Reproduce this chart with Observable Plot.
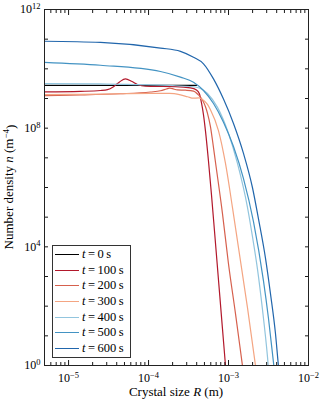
<!DOCTYPE html>
<html><head><meta charset="utf-8">
<script src="https://cdn.jsdelivr.net/npm/d3@7"></script>
<script src="https://cdn.jsdelivr.net/npm/@observablehq/plot@0.6"></script>
<style>
body{margin:0;background:#fff;}
#wrap{position:relative;width:320px;height:402px;font-family:"Liberation Serif",serif;}
#legend{position:absolute;left:52px;top:245px;width:77px;height:110px;border:1px solid #333;background:#fff;padding-top:1px;box-sizing:content-box;}
.row{display:flex;align-items:center;height:15.6px;font-size:12.5px;white-space:nowrap;}
.sw{width:24px;height:0;border-top:1.5px solid;margin-left:2px;margin-right:3px;}
</style></head><body><div id="wrap"></div>
<script>
// times (s)
const times = [0, 100, 200, 300, 400, 500, 600];
const palette = ["#000000", "#b2182b", "#d6604d", "#f4a582", "#92c5de", "#4393c3", "#2166ac"];

// each curve: [log10 R (m), log10 n (m^-4)]
const curve0 = [[-5.301, 9.44], [-3.401, 9.44]];
const curve100 = [[-5.301, 9.22], [-4.851, 9.24], [-4.601, 9.27], [-4.513, 9.30], [-4.438, 9.40], [-4.363, 9.56], [-4.288, 9.66], [-4.213, 9.58], [-4.138, 9.47], [-4.088, 9.43], [-3.976, 9.41], [-3.663, 9.40], [-3.476, 9.36], [-3.401, 9.29], [-3.363, 9.15], [-3.338, 8.85], [-3.313, 8.45], [-3.288, 7.90], [-3.251, 6.90], [-3.213, 5.75], [-3.176, 4.55], [-3.126, 2.90], [-3.076, 1.25], [-3.038, 0.0], [-3.026, -0.4]];
const curve200 = [[-5.301, 9.10], [-4.851, 9.12], [-4.351, 9.16], [-3.976, 9.22], [-3.851, 9.26], [-3.776, 9.32], [-3.738, 9.35], [-3.701, 9.33], [-3.638, 9.29], [-3.538, 9.28], [-3.438, 9.25], [-3.376, 9.12], [-3.326, 8.95], [-3.288, 8.72], [-3.263, 8.50], [-3.226, 8.05], [-3.201, 7.60], [-3.163, 6.85], [-3.076, 5.13], [-3.001, 3.44], [-2.913, 1.75], [-2.826, 0.0], [-2.801, -0.5]];
const curve300 = [[-5.301, 9.13], [-4.851, 9.14], [-4.351, 9.16], [-3.976, 9.17], [-3.738, 9.17], [-3.601, 9.12], [-3.513, 9.06], [-3.438, 9.01], [-3.376, 9.02], [-3.326, 8.97], [-3.263, 8.80], [-3.226, 8.62], [-3.126, 7.92], [-3.038, 6.81], [-2.951, 5.33], [-2.876, 3.98], [-2.763, 1.95], [-2.663, 0.0], [-2.638, -0.5]];
const curve400 = [[-5.301, 9.50], [-4.601, 9.49], [-4.088, 9.47], [-3.663, 9.43], [-3.401, 9.38], [-3.263, 9.17], [-3.138, 8.70], [-3.013, 7.92], [-2.888, 6.81], [-2.763, 5.33], [-2.701, 4.35], [-2.638, 3.25], [-2.576, 1.90], [-2.513, 0.30], [-2.488, -0.5]];
const curve500 = [[-5.301, 10.22], [-4.601, 10.12], [-3.851, 9.91], [-3.601, 9.72], [-3.438, 9.55], [-3.313, 9.27], [-3.188, 8.83], [-3.063, 8.20], [-2.938, 7.38], [-2.813, 6.30], [-2.688, 4.85], [-2.563, 2.85], [-2.501, 1.60], [-2.438, 0.10], [-2.413, -0.5]];
const curve600 = [[-5.301, 10.93], [-4.601, 10.89], [-3.851, 10.70], [-3.601, 10.59], [-3.438, 10.39], [-3.313, 10.17], [-3.188, 9.66], [-3.063, 8.98], [-2.938, 8.16], [-2.813, 7.15], [-2.701, 6.00], [-2.626, 4.95], [-2.538, 3.62], [-2.476, 2.43], [-2.413, 1.08], [-2.376, 0.0], [-2.351, -0.6]];

const curves = [curve0, curve100, curve200, curve300, curve400, curve500, curve600];

// axis ticks
const xMajor = [1e-5, 1e-4, 1e-3, 1e-2];
const xMinorMult = [2, 3, 4, 5, 6, 7, 8, 9];
const xMinor = [6e-6, 7e-6, 8e-6, 9e-6].concat([1e-5, 1e-4, 1e-3].flatMap(d => xMinorMult.map(k => k * d)));
const yTicks = [1, 1e1, 1e2, 1e3, 1e4, 1e5, 1e6, 1e7, 1e8, 1e9, 1e10, 1e11, 1e12];
const yLabels = [1, 1e4, 1e8, 1e12];

const rows = [];
curves.forEach((c, i) => c.forEach(([lr, ln]) => rows.push({t: times[i], R: Math.pow(10, lr), n: Math.pow(10, ln)})));

const expFmt = d => "10^" + String(Math.round(Math.log10(d))).replace("-", "\u2212");
const blank = () => "";
const tk = "#1a1a1a";

const chart = Plot.plot({
  width: 320, height: 402,
  marginTop: 9, marginRight: 12, marginBottom: 37, marginLeft: 44,
  style: {fontFamily: '"Liberation Serif", serif', fontSize: "12px", background: "#fff", color: "#000"},
  x: {type: "log", domain: [5e-6, 1e-2]},
  y: {type: "log", domain: [1, 1e12]},
  color: {type: "ordinal", domain: times, range: palette},
  marks: [
    Plot.line(rows, {x: "R", y: "n", z: "t", stroke: "t", strokeWidth: 1.2, curve: "monotone-x", clip: true}),
    Plot.axisX(xMajor, {anchor: "bottom", tickSize: 5, dy: -5, tickFormat: blank, label: null, stroke: tk}),
    Plot.axisX(xMajor, {anchor: "top", tickSize: 5, dy: 5, tickFormat: blank, label: null, stroke: tk}),
    Plot.axisX(xMinor, {anchor: "bottom", tickSize: 3, dy: -3, tickFormat: blank, label: null, stroke: tk}),
    Plot.axisX(xMinor, {anchor: "top", tickSize: 3, dy: 3, tickFormat: blank, label: null, stroke: tk}),
    Plot.axisX(xMajor, {anchor: "bottom", tickSize: 0, tickPadding: 8, tickFormat: expFmt, label: null}),
    Plot.axisY(yTicks, {anchor: "left", tickSize: 4, dx: 4, tickFormat: blank, label: null, stroke: tk}),
    Plot.axisY(yTicks, {anchor: "right", tickSize: 4, dx: -4, tickFormat: blank, label: null, stroke: tk}),
    Plot.axisY(yLabels, {anchor: "left", tickSize: 0, tickPadding: 4, tickFormat: expFmt, label: null}),
    Plot.frame({stroke: "#222", strokeWidth: 1})
  ]
});

const svg = d3.select(chart);
svg.selectAll("text").each(function() {
  const s = this.textContent;
  if (s.includes("^")) {
    const [b, e] = s.split("^");
    this.textContent = b;
    d3.select(this).append("tspan").attr("dy", "-0.5em").attr("font-size", "8.5px").text(e);
  }
});

const yl = svg.append("text").attr("transform", "translate(13,187) rotate(-90)").attr("text-anchor", "middle").attr("font-size", "13px").attr("fill", "#000");
yl.append("tspan").text("Number density ");
yl.append("tspan").attr("font-style", "italic").text("n");
yl.append("tspan").text(" (m");
yl.append("tspan").attr("dy", "-0.45em").attr("font-size", "9px").text("\u22124");
yl.append("tspan").attr("dy", "0.45em").text(")");

const xl = svg.append("text").attr("x", 176).attr("y", 396).attr("text-anchor", "middle").attr("font-size", "13px").attr("fill", "#000");
xl.append("tspan").text("Crystal size ");
xl.append("tspan").attr("font-style", "italic").text("R");
xl.append("tspan").text(" (m)");

const wrap = document.getElementById("wrap");
wrap.appendChild(chart);

const legend = document.createElement("div");
legend.id = "legend";
times.forEach((t, i) => {
  const row = document.createElement("div");
  row.className = "row";
  const sw = document.createElement("span");
  sw.className = "sw";
  sw.style.borderTopColor = palette[i];
  const lab = document.createElement("span");
  lab.innerHTML = "<i>t</i>\u2009=\u2009" + t + "\u2009s";
  row.appendChild(sw);
  row.appendChild(lab);
  legend.appendChild(row);
});
wrap.appendChild(legend);
</script>
</body></html>
